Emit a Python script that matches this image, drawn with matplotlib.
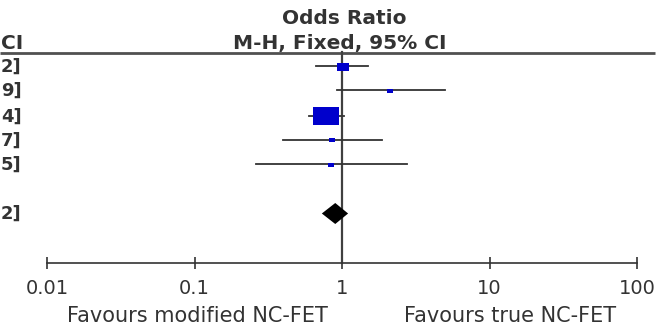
import matplotlib
matplotlib.use("Agg")
import matplotlib.pyplot as plt
import matplotlib.transforms as mtrans
import numpy as np

# data
row_tail = ["2]", "9]", "4]", "7]", "5]"]
odds = [1.01, 2.13, 0.78, 0.86, 0.84]
ci_low = [0.67, 0.92, 0.60, 0.40, 0.26]
ci_high = [1.50, 4.99, 1.03, 1.87, 2.76]
weight = [17.0, 4.0, 71.0, 5.0, 3.0]
total_tail = "2]"
total_or = 0.90
total_low = 0.73
total_high = 1.10
tick_vals = [0.01, 0.1, 1, 10, 100]
tick_text = ["0.01", "0.1", "1", "10", "100"]
left_label = "Favours modified NC-FET"
right_label = "Favours true NC-FET"

# layout (pixel rows, figure is 671 x 326)
W, H = 671, 326
row_y = [66, 90, 115.5, 139.5, 164]
total_y = 213.5
header_y = 53
axis_y = 263
px_left, px_decade = 47, 147.5
txt = "#333333"
fs = 14.5

fig = plt.figure(figsize=(W / 100, H / 100), dpi=100)
ax = fig.add_axes([0, 0, 1, 1])
ax.set_xscale("log")
x0 = -2 - px_left / px_decade
ax.set_xlim(10 ** x0, 10 ** (x0 + W / px_decade))
ax.set_ylim(H, 0)

blend = mtrans.blended_transform_factory(ax.transAxes, ax.transData)

# header
ax.text(344 / W, 18, "Odds Ratio", transform=blend, ha="center", va="center",
        fontsize=fs, fontweight="bold", color=txt)
ax.text(340 / W, 43.5, "M-H, Fixed, 95% CI", transform=blend, ha="center", va="center",
        fontsize=fs, fontweight="bold", color=txt)
ax.text(1 / W, 43.5, "CI", transform=blend, ha="left", va="center",
        fontsize=fs, fontweight="bold", color=txt)
ax.plot([0, 655 / W], [header_y, header_y], transform=blend, color="#505050", lw=2.0,
        solid_capstyle="butt")

# line of no effect
ax.plot([1, 1], [header_y - 1, axis_y], color="#404040", lw=1.6, zorder=2)

# studies
box = [(-1.5, -1), (1.5, -1), (1.5, 1), (-1.5, 1), (-1.5, -1)]
for i in range(len(odds)):
    y = row_y[i]
    ax.plot([ci_low[i], ci_high[i]], [y, y], color="#333333", lw=1.3, zorder=3)
    side = 3.09 * np.sqrt(weight[i]) * 0.72
    ax.plot([odds[i]], [y + 0.5], marker=box, markersize=side, color="#0000cc",
            markeredgewidth=0, linestyle="none", zorder=4)
    ax.text(1 / W, row_y[i] + 1, row_tail[i], transform=blend, ha="left", va="center",
            fontsize=13, fontweight="bold", color=txt)

# pooled diamond
ax.fill([total_low, total_or, total_high, total_or],
        [total_y, total_y - 10.5, total_y, total_y + 10.5], color="black", lw=0, zorder=4)
ax.text(1 / W, total_y, total_tail, transform=blend, ha="left", va="center",
        fontsize=13, fontweight="bold", color=txt)

# x axis
for s in ["top", "left", "right"]:
    ax.spines[s].set_visible(False)
ax.spines["bottom"].set_position(("data", axis_y))
ax.spines["bottom"].set_bounds(tick_vals[0], tick_vals[-1])
ax.spines["bottom"].set_color("#333333")
ax.spines["bottom"].set_linewidth(1.2)
ax.set_xticks(tick_vals)
ax.set_xticklabels(tick_text)
ax.minorticks_off()
ax.tick_params(axis="x", direction="inout", length=8, width=1.2, color="#333333",
               labelsize=14, labelcolor=txt, pad=7.5)
ax.set_yticks([])

ax.text(197 / W, 316, left_label, transform=blend, ha="center", va="center",
        fontsize=15, color=txt)
ax.text(510 / W, 316, right_label, transform=blend, ha="center", va="center",
        fontsize=15, color=txt)

fig.savefig("out.png", dpi=100)
